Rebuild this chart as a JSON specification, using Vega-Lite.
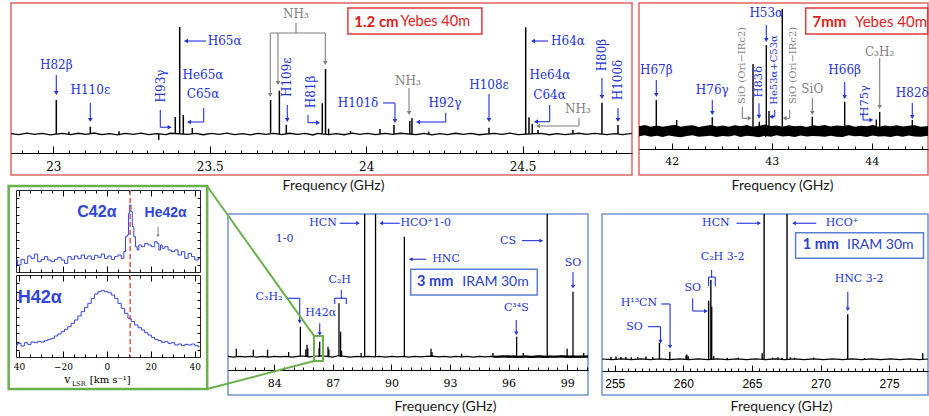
{
"$schema": "https://vega.github.io/schema/vega-lite/v6.json",
"background": "white",
"padding": {"left": 6, "top": 2, "right": 2, "bottom": 2},
"bounds": "flush",
"spacing": 187,
"config": {"view": {"stroke": null}, "axis": {"grid": false, "domainColor": "#000", "tickColor": "#000"}},
"datasets": {
"p1n": [{"f":22.865,"v":0.004},{"f":22.89,"v":-0.006},{"f":22.915,"v":0.008},{"f":22.94,"v":-0.004},{"f":22.965,"v":0.006},{"f":22.99,"v":-0.008},{"f":23.03,"v":0.005},{"f":23.055,"v":-0.006},{"f":23.08,"v":0.007},{"f":23.105,"v":-0.003},{"f":23.13,"v":0.009},{"f":23.155,"v":-0.005},{"f":23.18,"v":0.004},{"f":23.205,"v":-0.009},{"f":23.23,"v":0.006},{"f":23.255,"v":-0.004},{"f":23.28,"v":0.008},{"f":23.305,"v":-0.006},{"f":23.33,"v":0.003},{"f":23.36,"v":-0.005},{"f":23.375,"v":0.007},{"f":23.43,"v":-0.004},{"f":23.455,"v":0.006},{"f":23.48,"v":-0.007},{"f":23.505,"v":0.005},{"f":23.53,"v":-0.003},{"f":23.555,"v":0.008},{"f":23.58,"v":-0.006},{"f":23.605,"v":0.004},{"f":23.63,"v":-0.008},{"f":23.655,"v":0.006},{"f":23.68,"v":-0.004},{"f":23.705,"v":0.005},{"f":23.73,"v":-0.006},{"f":23.755,"v":0.007},{"f":23.78,"v":-0.003},{"f":23.805,"v":0.005},{"f":23.83,"v":-0.009},{"f":23.845,"v":0.006},{"f":23.88,"v":-0.005},{"f":23.905,"v":0.004},{"f":23.93,"v":-0.007},{"f":23.955,"v":0.008},{"f":23.98,"v":-0.004},{"f":24.005,"v":0.006},{"f":24.03,"v":-0.006},{"f":24.06,"v":0.005},{"f":24.085,"v":-0.003},{"f":24.11,"v":0.007},{"f":24.16,"v":-0.005},{"f":24.185,"v":0.006},{"f":24.21,"v":-0.008},{"f":24.235,"v":0.004},{"f":24.26,"v":-0.005},{"f":24.285,"v":0.007},{"f":24.31,"v":-0.004},{"f":24.335,"v":0.005},{"f":24.36,"v":-0.007},{"f":24.41,"v":0.006},{"f":24.435,"v":-0.004},{"f":24.46,"v":0.008},{"f":24.485,"v":-0.005},{"f":24.56,"v":0.006},{"f":24.585,"v":-0.007},{"f":24.61,"v":0.004},{"f":24.635,"v":-0.006},{"f":24.68,"v":0.007},{"f":24.705,"v":-0.004},{"f":24.73,"v":0.005},{"f":24.77,"v":-0.006},{"f":24.795,"v":0.004},{"f":24.82,"v":-0.005},{"f":24.849,"v":0.006}],
"p1s": [{"f":23.0096,"v":0.318},{"f":23.1183,"v":0.068},{"f":23.3369,"v":-0.056},{"f":23.3899,"v":0.159},{"f":23.404,"v":1.0},{"f":23.4155,"v":0.178},{"f":23.4443,"v":0.056},{"f":23.6945,"v":0.318},{"f":23.7226,"v":0.405},{"f":23.7447,"v":0.084},{"f":23.8598,"v":0.287},{"f":23.8701,"v":0.607},{"f":24.0442,"v":0.047},{"f":24.0889,"v":0.084},{"f":24.1394,"v":0.124},{"f":24.1465,"v":0.147},{"f":24.3926,"v":0.059},{"f":24.5099,"v":0.997},{"f":24.5205,"v":0.156},{"f":24.531,"v":0.093},{"f":24.5492,"v":0.037},{"f":24.6611,"v":0.037},{"f":24.7537,"v":0.293},{"f":24.8049,"v":0.084},{"f":23.05,"v":0.02},{"f":23.21,"v":0.025},{"f":23.95,"v":0.028},{"f":24.2,"v":0.022},{"f":23.88,"v":0.05}],
"p1g": [{"x1":23.0096,"y1":0.551,"x2":23.0096,"y2":0.383,"k":"rrl"},{"x1":23.1183,"y1":0.29,"x2":23.1183,"y2":0.131,"k":"rrl"},{"x1":23.342,"y1":0.224,"x2":23.342,"y2":0.063,"k":"rrl"},{"x1":23.342,"y1":0.063,"x2":23.372,"y2":0.063,"k":"rrl"},{"x1":23.4881,"y1":0.869,"x2":23.4241,"y2":0.869,"k":"rrl"},{"x1":23.4807,"y1":0.243,"x2":23.4807,"y2":0.112,"k":"rrl"},{"x1":23.4807,"y1":0.112,"x2":23.4337,"y2":0.112,"k":"rrl"},{"x1":23.7757,"y1":1.037,"x2":23.7757,"y2":0.944,"k":"mol"},{"x1":23.6936,"y1":0.944,"x2":23.8694,"y2":0.944,"k":"mol"},{"x1":23.6936,"y1":0.944,"x2":23.6936,"y2":0.364,"k":"mol"},{"x1":23.7182,"y1":0.944,"x2":23.7182,"y2":0.477,"k":"mol"},{"x1":23.8694,"y1":0.944,"x2":23.8694,"y2":0.664,"k":"mol"},{"x1":23.7479,"y1":0.271,"x2":23.7479,"y2":0.131,"k":"rrl"},{"x1":23.8141,"y1":0.178,"x2":23.8141,"y2":0.106,"k":"rrl"},{"x1":23.8141,"y1":0.106,"x2":23.8461,"y2":0.106,"k":"rrl"},{"x1":24.0538,"y1":0.29,"x2":24.0921,"y2":0.29,"k":"rrl"},{"x1":24.0921,"y1":0.29,"x2":24.0921,"y2":0.121,"k":"rrl"},{"x1":24.1369,"y1":0.43,"x2":24.1369,"y2":0.196,"k":"mol"},{"x1":24.2542,"y1":0.199,"x2":24.2542,"y2":0.112,"k":"rrl"},{"x1":24.2542,"y1":0.112,"x2":24.1657,"y2":0.112,"k":"rrl"},{"x1":24.3926,"y1":0.374,"x2":24.3926,"y2":0.131,"k":"rrl"},{"x1":24.5812,"y1":0.869,"x2":24.5333,"y2":0.869,"k":"rrl"},{"x1":24.5866,"y1":0.271,"x2":24.5866,"y2":0.115,"k":"rrl"},{"x1":24.5866,"y1":0.115,"x2":24.5428,"y2":0.115,"k":"rrl"},{"x1":24.6802,"y1":0.15,"x2":24.6802,"y2":0.075,"k":"mol"},{"x1":24.6802,"y1":0.075,"x2":24.5492,"y2":0.075,"k":"mol"},{"x1":24.7537,"y1":0.523,"x2":24.7537,"y2":0.346,"k":"rrl"},{"x1":24.8049,"y1":0.243,"x2":24.8049,"y2":0.131,"k":"rrl"}],
"p1h": [{"f":23.0096,"v":0.383,"d":"down","k":"rrl"},{"f":23.1183,"v":0.131,"d":"down","k":"rrl"},{"f":23.372,"v":0.063,"d":"right","k":"rrl"},{"f":23.4241,"v":0.869,"d":"left","k":"rrl"},{"f":23.4337,"v":0.112,"d":"left","k":"rrl"},{"f":23.6936,"v":0.364,"d":"down","k":"mol"},{"f":23.7182,"v":0.477,"d":"down","k":"mol"},{"f":23.8694,"v":0.664,"d":"down","k":"mol"},{"f":23.7479,"v":0.131,"d":"down","k":"rrl"},{"f":23.8461,"v":0.106,"d":"right","k":"rrl"},{"f":24.0921,"v":0.121,"d":"down","k":"rrl"},{"f":24.1369,"v":0.196,"d":"down","k":"mol"},{"f":24.1657,"v":0.112,"d":"left","k":"rrl"},{"f":24.3926,"v":0.131,"d":"down","k":"rrl"},{"f":24.5333,"v":0.869,"d":"left","k":"rrl"},{"f":24.5428,"v":0.115,"d":"left","k":"rrl"},{"f":24.5492,"v":0.075,"d":"left","k":"mol"},{"f":24.7537,"v":0.346,"d":"down","k":"rrl"},{"f":24.8049,"v":0.131,"d":"down","k":"rrl"}],
"p1t": [{"f":23.0096,"v":0.645,"t":"H82β","k":"rrl"},{"f":23.1183,"v":0.411,"t":"H110ε","k":"rrl"},{"f":23.5478,"v":0.869,"t":"H65α","k":"rrl"},{"f":23.4785,"v":0.551,"t":"He65α","k":"rrl"},{"f":23.4785,"v":0.374,"t":"C65α","k":"rrl"},{"f":23.7757,"v":1.121,"t":"NH₃","k":"mol"},{"f":23.9739,"v":0.29,"t":"H101δ","k":"rrl"},{"f":24.1337,"v":0.495,"t":"NH₃","k":"mol"},{"f":24.252,"v":0.29,"t":"H92γ","k":"rrl"},{"f":24.3926,"v":0.458,"t":"H108ε","k":"rrl"},{"f":24.6451,"v":0.869,"t":"H64α","k":"rrl"},{"f":24.5876,"v":0.551,"t":"He64α","k":"rrl"},{"f":24.586,"v":0.364,"t":"C64α","k":"rrl"},{"f":24.677,"v":0.234,"t":"NH₃","k":"mol"}],
"p1r": [{"f":23.3442,"v":0.449,"t":"H93γ","k":"rrl"},{"f":23.7479,"v":0.53,"t":"H109ε","k":"rrl"},{"f":23.8221,"v":0.393,"t":"H81β","k":"rrl"},{"f":24.7537,"v":0.738,"t":"H80β","k":"rrl"},{"f":24.8049,"v":0.505,"t":"H100δ","k":"rrl"}],
"p2b": [{"f":41.673,"lo":-0.06,"hi":0.055},{"f":41.73,"lo":-0.05,"hi":0.07},{"f":41.79,"lo":-0.068,"hi":0.05},{"f":41.85,"lo":-0.055,"hi":0.065},{"f":41.91,"lo":-0.07,"hi":0.048},{"f":41.97,"lo":-0.052,"hi":0.062},{"f":42.03,"lo":-0.063,"hi":0.072},{"f":42.09,"lo":-0.072,"hi":0.05},{"f":42.15,"lo":-0.057,"hi":0.06},{"f":42.21,"lo":-0.05,"hi":0.068},{"f":42.27,"lo":-0.066,"hi":0.047},{"f":42.33,"lo":-0.06,"hi":0.058},{"f":42.39,"lo":-0.054,"hi":0.07},{"f":42.45,"lo":-0.07,"hi":0.052},{"f":42.51,"lo":-0.058,"hi":0.063},{"f":42.57,"lo":-0.064,"hi":0.049},{"f":42.63,"lo":-0.05,"hi":0.066},{"f":42.69,"lo":-0.069,"hi":0.055},{"f":42.75,"lo":-0.056,"hi":0.071},{"f":42.81,"lo":-0.062,"hi":0.05},{"f":42.87,"lo":-0.073,"hi":0.06},{"f":42.93,"lo":-0.055,"hi":0.075},{"f":42.99,"lo":-0.067,"hi":0.058},{"f":43.05,"lo":-0.05,"hi":0.064},{"f":43.11,"lo":-0.063,"hi":0.05},{"f":43.17,"lo":-0.058,"hi":0.068},{"f":43.23,"lo":-0.07,"hi":0.054},{"f":43.29,"lo":-0.052,"hi":0.061},{"f":43.35,"lo":-0.065,"hi":0.047},{"f":43.41,"lo":-0.057,"hi":0.066},{"f":43.47,"lo":-0.06,"hi":0.058},{"f":43.53,"lo":-0.068,"hi":0.07},{"f":43.59,"lo":-0.054,"hi":0.052},{"f":43.65,"lo":-0.066,"hi":0.063},{"f":43.71,"lo":-0.071,"hi":0.057},{"f":43.77,"lo":-0.05,"hi":0.069},{"f":43.83,"lo":-0.062,"hi":0.05},{"f":43.89,"lo":-0.058,"hi":0.062},{"f":43.95,"lo":-0.069,"hi":0.055},{"f":44.01,"lo":-0.053,"hi":0.071},{"f":44.07,"lo":-0.064,"hi":0.049},{"f":44.13,"lo":-0.06,"hi":0.064},{"f":44.19,"lo":-0.07,"hi":0.056},{"f":44.25,"lo":-0.055,"hi":0.068},{"f":44.31,"lo":-0.066,"hi":0.052},{"f":44.37,"lo":-0.051,"hi":0.06},{"f":44.43,"lo":-0.063,"hi":0.066},{"f":44.49,"lo":-0.068,"hi":0.05},{"f":44.563,"lo":-0.056,"hi":0.058}],
"p2s": [{"f":41.846,"v":0.36},{"f":42.05,"v":0.128},{"f":42.406,"v":0.159},{"f":42.813,"v":0.78},{"f":42.876,"v":0.108},{"f":42.946,"v":1.0},{"f":42.94,"v":-0.07},{"f":42.973,"v":0.233},{"f":43.106,"v":1.42},{"f":43.406,"v":0.166},{"f":43.73,"v":0.341},{"f":44.046,"v":0.135},{"f":44.08,"v":0.221},{"f":44.406,"v":0.128}],
"p2g": [{"x1":41.846,"y1":0.593,"x2":41.846,"y2":0.419,"k":"rrl"},{"x1":42.406,"y1":0.36,"x2":42.406,"y2":0.209,"k":"rrl"},{"x1":42.706,"y1":0.283,"x2":42.706,"y2":0.148,"k":"mol"},{"x1":42.706,"y1":0.148,"x2":42.78,"y2":0.148,"k":"mol"},{"x1":42.873,"y1":0.322,"x2":42.873,"y2":0.166,"k":"rrl"},{"x1":42.946,"y1":1.233,"x2":42.946,"y2":1.058,"k":"rrl"},{"x1":43.03,"y1":0.244,"x2":43.03,"y2":0.166,"k":"rrl"},{"x1":43.03,"y1":0.166,"x2":42.996,"y2":0.166,"k":"rrl"},{"x1":43.18,"y1":0.244,"x2":43.18,"y2":0.148,"k":"mol"},{"x1":43.18,"y1":0.148,"x2":43.13,"y2":0.148,"k":"mol"},{"x1":43.406,"y1":0.384,"x2":43.406,"y2":0.209,"k":"mol"},{"x1":43.73,"y1":0.57,"x2":43.73,"y2":0.395,"k":"rrl"},{"x1":43.913,"y1":0.209,"x2":43.913,"y2":0.128,"k":"rrl"},{"x1":43.913,"y1":0.128,"x2":43.996,"y2":0.128,"k":"rrl"},{"x1":44.08,"y1":0.849,"x2":44.08,"y2":0.279,"k":"mol"},{"x1":44.406,"y1":0.326,"x2":44.406,"y2":0.163,"k":"rrl"}],
"p2h": [{"f":41.846,"v":0.419,"d":"down","k":"rrl"},{"f":42.406,"v":0.209,"d":"down","k":"rrl"},{"f":42.78,"v":0.148,"d":"right","k":"mol"},{"f":42.873,"v":0.166,"d":"down","k":"rrl"},{"f":42.946,"v":1.058,"d":"down","k":"rrl"},{"f":42.996,"v":0.166,"d":"left","k":"rrl"},{"f":43.13,"v":0.148,"d":"left","k":"mol"},{"f":43.406,"v":0.209,"d":"down","k":"mol"},{"f":43.73,"v":0.395,"d":"down","k":"rrl"},{"f":43.996,"v":0.128,"d":"right","k":"rrl"},{"f":44.08,"v":0.279,"d":"down","k":"mol"},{"f":44.406,"v":0.163,"d":"down","k":"rrl"}],
"p2t": [{"f":41.846,"v":0.709,"t":"H67β","k":"rrl"},{"f":42.406,"v":0.477,"t":"H76γ","k":"rrl"},{"f":42.946,"v":1.369,"t":"H53α","k":"rrl"},{"f":43.406,"v":0.485,"t":"SiO","k":"mol"},{"f":43.73,"v":0.709,"t":"H66β","k":"rrl"},{"f":44.08,"v":0.922,"t":"C₃H₂","k":"mol"},{"f":44.406,"v":0.438,"t":"H82δ","k":"rrl"}],
"p2r": [{"f":42.876,"v":0.573,"t":"H83δ","k":"rrl"},{"f":43.93,"v":0.351,"t":"H75γ","k":"rrl"}],
"p2q": [{"f":42.701,"v":0.762,"t":"SiO (Ori−IRc2)","k":"mol"},{"f":43.021,"v":0.709,"t":"He53α+C53α","k":"rrl"},{"f":43.208,"v":0.762,"t":"SiO (Ori−IRc2)","k":"mol"}],
"p3n": [{"f":81.634,"v":0.002},{"f":81.9,"v":-0.003},{"f":82.2,"v":0.003},{"f":82.5,"v":-0.002},{"f":82.8,"v":0.003},{"f":83.1,"v":-0.003},{"f":83.4,"v":0.002},{"f":83.7,"v":-0.003},{"f":84.0,"v":0.003},{"f":84.3,"v":-0.002},{"f":84.6,"v":0.003},{"f":84.9,"v":-0.003},{"f":85.2,"v":0.003},{"f":85.5,"v":0.006},{"f":85.8,"v":-0.002},{"f":86.1,"v":0.004},{"f":86.4,"v":0.008},{"f":86.7,"v":0.003},{"f":87.0,"v":-0.003},{"f":87.3,"v":0.01},{"f":87.6,"v":0.003},{"f":87.9,"v":-0.003},{"f":88.2,"v":0.002},{"f":88.5,"v":-0.002},{"f":88.8,"v":0.003},{"f":89.1,"v":-0.002},{"f":89.4,"v":0.003},{"f":89.7,"v":-0.003},{"f":90.0,"v":0.002},{"f":90.3,"v":-0.002},{"f":90.6,"v":0.003},{"f":90.9,"v":-0.003},{"f":91.2,"v":0.002},{"f":91.5,"v":-0.002},{"f":91.8,"v":0.003},{"f":92.1,"v":0.005},{"f":92.4,"v":-0.002},{"f":92.7,"v":0.003},{"f":93.0,"v":-0.003},{"f":93.3,"v":0.002},{"f":93.6,"v":-0.002},{"f":93.9,"v":0.003},{"f":94.2,"v":-0.003},{"f":94.5,"v":0.002},{"f":94.8,"v":-0.002},{"f":95.1,"v":0.003},{"f":95.4,"v":-0.004},{"f":95.7,"v":0.004},{"f":96.0,"v":-0.004},{"f":96.3,"v":0.004},{"f":96.6,"v":-0.004},{"f":96.9,"v":0.004},{"f":97.2,"v":-0.004},{"f":97.5,"v":0.004},{"f":97.8,"v":-0.004},{"f":98.1,"v":0.004},{"f":98.4,"v":-0.004},{"f":98.7,"v":0.004},{"f":99.0,"v":-0.004},{"f":99.3,"v":0.004},{"f":99.6,"v":-0.004},{"f":100.07,"v":0.004}],
"p3b": [{"f":95.2,"lo":-0.006,"hi":0.007},{"f":95.6,"lo":-0.009,"hi":0.011},{"f":96.0,"lo":-0.007,"hi":0.012},{"f":96.4,"lo":-0.01,"hi":0.009},{"f":96.8,"lo":-0.008,"hi":0.011},{"f":97.2,"lo":-0.011,"hi":0.009},{"f":97.6,"lo":-0.008,"hi":0.012},{"f":98.0,"lo":-0.01,"hi":0.009},{"f":98.4,"lo":-0.007,"hi":0.011},{"f":98.8,"lo":-0.009,"hi":0.012},{"f":99.2,"lo":-0.011,"hi":0.01},{"f":99.6,"lo":-0.008,"hi":0.011},{"f":100.07,"lo":-0.009,"hi":0.01}],
"p3s": [{"f":82.06,"v":0.067},{"f":82.93,"v":0.058},{"f":83.66,"v":0.058},{"f":84.74,"v":0.04},{"f":85.339,"v":0.25},{"f":85.62,"v":0.06},{"f":85.68,"v":0.1},{"f":85.72,"v":0.07},{"f":86.3,"v":0.07},{"f":86.33,"v":0.125},{"f":86.755,"v":0.083},{"f":86.8,"v":0.06},{"f":87.317,"v":0.445},{"f":87.4,"v":0.208},{"f":87.45,"v":0.05},{"f":88.45,"v":0.03},{"f":88.632,"v":1.19},{"f":89.189,"v":1.19},{"f":90.664,"v":1.0},{"f":92.03,"v":0.067},{"f":92.08,"v":0.04},{"f":93.6,"v":0.025},{"f":95.2,"v":0.03},{"f":96.413,"v":0.167},{"f":96.75,"v":0.03},{"f":97.981,"v":1.19},{"f":99.0,"v":0.067},{"f":99.3,"v":0.542},{"f":99.85,"v":0.03}],
"p3g": [{"x1":87.354,"y1":1.112,"x2":88.291,"y2":1.112},{"x1":90.426,"y1":1.112,"x2":89.484,"y2":1.112},{"x1":91.788,"y1":0.812,"x2":90.989,"y2":0.812},{"x1":96.688,"y1":0.967,"x2":97.676,"y2":0.967},{"x1":99.3,"y1":0.708,"x2":99.3,"y2":0.583},{"x1":96.396,"y1":0.306,"x2":96.396,"y2":0.195},{"x1":84.62,"y1":0.487,"x2":85.306,"y2":0.487},{"x1":85.306,"y1":0.487,"x2":85.306,"y2":0.292},{"x1":86.33,"y1":0.278,"x2":86.33,"y2":0.189},{"x1":87.436,"y1":0.556,"x2":87.436,"y2":0.487},{"x1":87.098,"y1":0.487,"x2":87.692,"y2":0.487},{"x1":87.098,"y1":0.487,"x2":87.098,"y2":0.439},{"x1":87.692,"y1":0.487,"x2":87.692,"y2":0.439}],
"p3h": [{"f":88.291,"v":1.112,"d":"right"},{"f":89.484,"v":1.112,"d":"left"},{"f":90.989,"v":0.812,"d":"left"},{"f":97.676,"v":0.967,"d":"right"},{"f":99.3,"v":0.583,"d":"down"},{"f":96.396,"v":0.195,"d":"down"},{"f":85.306,"v":0.292,"d":"down"},{"f":86.33,"v":0.189,"d":"down"}],
"p3t": [{"f":84.538,"v":0.978,"t":"1-0"},{"f":86.499,"v":1.112,"t":"HCN"},{"f":91.757,"v":1.112,"t":"HCO⁺1-0"},{"f":92.797,"v":0.812,"t":"HNC"},{"f":95.971,"v":0.967,"t":"CS"},{"f":99.3,"v":0.783,"t":"SO"},{"f":96.396,"v":0.403,"t":"C³⁴S"},{"f":83.734,"v":0.495,"t":"C₃H₂"},{"f":86.381,"v":0.362,"t":"H42α"},{"f":87.354,"v":0.639,"t":"C₂H"}],
"p4n": [{"f":254.07,"v":0.004},{"f":254.8,"v":-0.005},{"f":255.5,"v":0.006},{"f":256.2,"v":-0.004},{"f":256.9,"v":0.005},{"f":257.6,"v":-0.005},{"f":258.3,"v":0.004},{"f":259.0,"v":-0.004},{"f":259.7,"v":0.005},{"f":260.4,"v":-0.004},{"f":261.1,"v":0.005},{"f":261.8,"v":-0.005},{"f":262.5,"v":0.004},{"f":263.2,"v":-0.004},{"f":263.9,"v":0.005},{"f":264.6,"v":-0.005},{"f":265.3,"v":0.004},{"f":266.0,"v":-0.004},{"f":266.7,"v":0.005},{"f":267.4,"v":-0.004},{"f":268.1,"v":0.005},{"f":268.8,"v":-0.005},{"f":269.5,"v":0.004},{"f":270.2,"v":-0.004},{"f":270.9,"v":0.005},{"f":271.6,"v":-0.005},{"f":272.3,"v":0.004},{"f":273.0,"v":-0.004},{"f":273.7,"v":0.005},{"f":274.4,"v":-0.005},{"f":275.1,"v":0.004},{"f":275.8,"v":-0.004},{"f":276.5,"v":0.005},{"f":277.2,"v":-0.004},{"f":277.83,"v":0.004}],
"p4s": [{"f":254.72,"v":0.03},{"f":255.09,"v":0.035},{"f":255.45,"v":0.03},{"f":255.81,"v":0.03},{"f":256.2,"v":0.025},{"f":256.68,"v":0.03},{"f":257.27,"v":0.035},{"f":257.78,"v":0.03},{"f":258.256,"v":0.21},{"f":259.012,"v":0.096},{"f":260.2,"v":0.05},{"f":260.255,"v":0.06},{"f":260.35,"v":0.04},{"f":261.844,"v":0.742},{"f":262.004,"v":1.004},{"f":262.065,"v":0.666},{"f":262.21,"v":0.04},{"f":263.2,"v":0.02},{"f":264.0,"v":0.02},{"f":265.75,"v":0.076},{"f":265.886,"v":1.84},{"f":266.5,"v":0.02},{"f":266.9,"v":0.025},{"f":267.2,"v":0.02},{"f":267.558,"v":1.84},{"f":267.8,"v":0.025},{"f":268.1,"v":0.02},{"f":269.5,"v":0.02},{"f":271.981,"v":0.57},{"f":273.2,"v":0.015},{"f":277.45,"v":0.076}],
"p4g": [{"x1":263.874,"y1":1.722,"x2":265.523,"y2":1.722},{"x1":269.684,"y1":1.722,"x2":268.065,"y2":1.722},{"x1":262.059,"y1":1.13,"x2":262.059,"y2":1.04},{"x1":261.841,"y1":1.04,"x2":262.327,"y2":1.04},{"x1":261.841,"y1":1.04,"x2":261.841,"y2":0.928},{"x1":262.327,"y1":1.04,"x2":262.327,"y2":0.928},{"x1":260.679,"y1":0.772,"x2":260.679,"y2":0.611},{"x1":260.679,"y1":0.611,"x2":261.645,"y2":0.611},{"x1":258.377,"y1":0.7,"x2":259.031,"y2":0.7},{"x1":259.031,"y1":0.7,"x2":259.031,"y2":0.159},{"x1":257.411,"y1":0.413,"x2":258.333,"y2":0.413},{"x1":258.333,"y1":0.413,"x2":258.333,"y2":0.223},{"x1":271.986,"y1":0.856,"x2":271.986,"y2":0.633}],
"p4h": [{"f":265.523,"v":1.722,"d":"right"},{"f":268.065,"v":1.722,"d":"left"},{"f":261.645,"v":0.611,"d":"right"},{"f":259.031,"v":0.159,"d":"down"},{"f":258.333,"v":0.223,"d":"down"},{"f":271.986,"v":0.633,"d":"down"}],
"p4t": [{"f":262.371,"v":1.722,"t":"HCN"},{"f":271.572,"v":1.722,"t":"HCO⁺"},{"f":262.858,"v":1.291,"t":"C₂H 3-2"},{"f":260.679,"v":0.899,"t":"SO"},{"f":256.757,"v":0.709,"t":"H¹³CN"},{"f":256.445,"v":0.413,"t":"SO"},{"f":272.807,"v":1.02,"t":"HNC 3-2"}],
"c42": [{"v":-41.4,"t":0.0},{"v":-39.88,"t":-0.091},{"v":-38.36,"t":0.012},{"v":-36.83,"t":-0.061},{"v":-35.31,"t":0.073},{"v":-33.79,"t":0.03},{"v":-32.27,"t":0.109},{"v":-30.75,"t":-0.03},{"v":-29.22,"t":0.012},{"v":-27.7,"t":0.061},{"v":-26.18,"t":0.0},{"v":-24.66,"t":-0.03},{"v":-23.14,"t":0.012},{"v":-21.61,"t":0.048},{"v":-20.09,"t":0.0},{"v":-18.57,"t":-0.061},{"v":-17.05,"t":0.061},{"v":-15.53,"t":0.012},{"v":-14.0,"t":0.073},{"v":-12.48,"t":0.024},{"v":-10.96,"t":0.091},{"v":-9.44,"t":0.03},{"v":-7.91,"t":0.073},{"v":-6.39,"t":0.012},{"v":-4.87,"t":0.085},{"v":-3.35,"t":0.048},{"v":-1.83,"t":0.109},{"v":-0.3,"t":0.03},{"v":1.22,"t":0.073},{"v":2.74,"t":0.012},{"v":4.26,"t":0.061},{"v":5.78,"t":0.091},{"v":7.31,"t":0.03},{"v":8.07,"t":0.152},{"v":8.83,"t":0.424},{"v":9.59,"t":0.455},{"v":10.05,"t":0.848},{"v":10.65,"t":1.0},{"v":11.26,"t":0.879},{"v":11.87,"t":0.606},{"v":12.63,"t":0.424},{"v":13.39,"t":0.242},{"v":14.16,"t":0.182},{"v":14.92,"t":0.273},{"v":16.44,"t":0.242},{"v":17.96,"t":0.303},{"v":19.48,"t":0.273},{"v":21.0,"t":0.242},{"v":22.53,"t":0.333},{"v":23.29,"t":0.303},{"v":24.05,"t":0.182},{"v":24.81,"t":0.273},{"v":25.57,"t":0.212},{"v":27.09,"t":0.242},{"v":28.61,"t":0.182},{"v":30.14,"t":0.152},{"v":31.66,"t":0.182},{"v":33.18,"t":0.091},{"v":34.7,"t":0.152},{"v":36.22,"t":0.03},{"v":37.75,"t":0.121},{"v":39.27,"t":0.061},{"v":40.79,"t":0.0},{"v":42.31,"t":0.03}],
"h42": [{"v":-41.4,"t":0.0},{"v":-39.88,"t":0.03},{"v":-38.36,"t":-0.018},{"v":-36.83,"t":0.042},{"v":-35.31,"t":0.012},{"v":-33.79,"t":0.055},{"v":-32.27,"t":0.042},{"v":-30.75,"t":0.067},{"v":-29.22,"t":0.055},{"v":-27.7,"t":0.079},{"v":-26.18,"t":0.103},{"v":-24.66,"t":0.121},{"v":-23.14,"t":0.164},{"v":-21.61,"t":0.2},{"v":-20.09,"t":0.242},{"v":-18.57,"t":0.285},{"v":-17.05,"t":0.333},{"v":-15.53,"t":0.394},{"v":-14.0,"t":0.455},{"v":-12.48,"t":0.527},{"v":-10.96,"t":0.606},{"v":-9.44,"t":0.685},{"v":-7.91,"t":0.758},{"v":-6.39,"t":0.848},{"v":-4.87,"t":0.927},{"v":-3.35,"t":0.97},{"v":-1.83,"t":0.988},{"v":-0.3,"t":0.97},{"v":1.22,"t":0.952},{"v":2.74,"t":0.909},{"v":4.26,"t":0.848},{"v":5.78,"t":0.758},{"v":7.31,"t":0.667},{"v":8.83,"t":0.576},{"v":10.35,"t":0.485},{"v":11.87,"t":0.424},{"v":13.39,"t":0.364},{"v":14.92,"t":0.315},{"v":16.44,"t":0.273},{"v":17.96,"t":0.224},{"v":19.48,"t":0.182},{"v":21.0,"t":0.139},{"v":22.53,"t":0.103},{"v":24.05,"t":0.079},{"v":25.57,"t":0.048},{"v":27.09,"t":0.061},{"v":28.61,"t":0.03},{"v":30.14,"t":0.042},{"v":31.66,"t":0.0},{"v":33.18,"t":0.018},{"v":34.7,"t":-0.012},{"v":36.22,"t":0.012},{"v":37.75,"t":0.0},{"v":39.27,"t":0.018},{"v":40.79,"t":-0.012},{"v":42.31,"t":-0.03}]
},
"vconcat": [
{"hconcat": [
 {"width": 621, "height": 172, "view": {"stroke": "#e06666", "strokeWidth": 1.5},
  "resolve": {"axis": {"x": "independent"}},
  "layer": [
   {"data": {"name": "p1n"}, "mark": {"type": "line", "color": "#000", "strokeWidth": 1.3},
    "encoding": {"x": {"field": "f", "type": "quantitative", "scale": {"domain": [22.8648, 24.8497], "nice": false, "zero": false},
      "axis": {"orient": "bottom", "offset": -22, "values": [23, 23.5, 24, 24.5], "format": "~g", "tickSize": -7, "labelPadding": 20, "labelBaseline": "middle", "labelFont": "DejaVu Serif", "labelFontSize": 12, "labelColor": "#000", "labelFlush": false, "labelOverlap": false, "title": "Frequency (GHz)", "titleFont": "Lato", "titleFontSize": 14, "titleFontWeight": "normal", "titleColor": "#1a1a1a", "titleX": 322, "titleY": 32, "titleBaseline": "middle"}},
     "y": {"field": "v", "type": "quantitative", "scale": {"domain": [-0.3832, 1.2243], "nice": false, "zero": false}, "axis": null}}},
   {"data": {"name": "p1n"}, "mark": {"type": "line", "opacity": 0},
    "encoding": {"x": {"field": "f", "type": "quantitative", "axis": {"orient": "bottom", "offset": -22, "values": [22.9,22.95,23,23.05,23.1,23.15,23.2,23.25,23.3,23.35,23.4,23.45,23.5,23.55,23.6,23.65,23.7,23.75,23.8,23.85,23.9,23.95,24,24.05,24.1,24.15,24.2,24.25,24.3,24.35,24.4,24.45,24.5,24.55,24.6,24.65,24.7,24.75,24.8], "tickSize": -3, "labels": false, "domain": false, "title": null}},
     "y": {"field": "v", "type": "quantitative", "axis": null}}},
   {"data": {"name": "p1s"}, "mark": {"type": "rule", "color": "#000", "strokeWidth": 1.5},
    "encoding": {"x": {"field": "f", "type": "quantitative", "axis": null}, "y": {"field": "v", "type": "quantitative", "axis": null}, "y2": {"datum": 0}}},
   {"data": {"name": "p1g"}, "mark": {"type": "rule", "strokeWidth": 1.1},
    "encoding": {"x": {"field": "x1", "type": "quantitative", "axis": null}, "x2": {"field": "x2"}, "y": {"field": "y1", "type": "quantitative", "axis": null}, "y2": {"field": "y2"},
     "color": {"field": "k", "type": "nominal", "scale": {"domain": ["rrl", "mol"], "range": ["#2233dd", "#7f7f7f"]}, "legend": null}}},
   {"data": {"name": "p1h"}, "mark": {"type": "point", "filled": true, "size": 22, "opacity": 1},
    "encoding": {"x": {"field": "f", "type": "quantitative", "axis": null}, "y": {"field": "v", "type": "quantitative", "axis": null},
     "shape": {"field": "d", "type": "nominal", "scale": {"domain": ["down", "left", "right"], "range": ["triangle-down", "triangle-left", "triangle-right"]}, "legend": null},
     "color": {"field": "k", "type": "nominal", "legend": null}}},
   {"data": {"name": "p1t"}, "mark": {"type": "text", "font": "DejaVu Serif", "fontSize": 12, "align": "center", "baseline": "middle"},
    "encoding": {"x": {"field": "f", "type": "quantitative", "axis": null}, "y": {"field": "v", "type": "quantitative", "axis": null}, "text": {"field": "t"}, "color": {"field": "k", "type": "nominal", "legend": null}}},
   {"data": {"name": "p1r"}, "mark": {"type": "text", "font": "DejaVu Serif", "fontSize": 12, "align": "center", "baseline": "middle", "angle": 270},
    "encoding": {"x": {"field": "f", "type": "quantitative", "axis": null}, "y": {"field": "v", "type": "quantitative", "axis": null}, "text": {"field": "t"}, "color": {"field": "k", "type": "nominal", "legend": null}}},
   {"data": {"values": [{}]}, "mark": {"type": "rect", "fill": null, "stroke": "#dd3b3b", "strokeWidth": 1.5},
    "encoding": {"x": {"datum": 23.9416, "type": "quantitative", "axis": null}, "x2": {"datum": 24.3699}, "y": {"datum": 1.178, "type": "quantitative", "axis": null}, "y2": {"datum": 0.935}}},
   {"data": {"values": [{}]}, "mark": {"type": "text", "text": "1.2 cm", "font": "Lato", "fontSize": 15, "fontWeight": "bold", "color": "#e01b1b", "align": "center", "baseline": "middle"},
    "encoding": {"x": {"datum": 24.033, "type": "quantitative", "axis": null}, "y": {"datum": 1.047, "type": "quantitative", "axis": null}}},
   {"data": {"values": [{}]}, "mark": {"type": "text", "text": "Yebes 40m", "font": "Lato", "fontSize": 14.5, "color": "#e01b1b", "align": "center", "baseline": "middle"},
    "encoding": {"x": {"datum": 24.2208, "type": "quantitative", "axis": null}, "y": {"datum": 1.047, "type": "quantitative", "axis": null}}}
  ]},
 {"width": 289, "height": 172, "view": {"stroke": "#e06666", "strokeWidth": 1.5},
  "resolve": {"axis": {"x": "independent"}},
  "layer": [
   {"data": {"name": "p2b"}, "mark": {"type": "area", "color": "#000", "opacity": 1},
    "encoding": {"x": {"field": "f", "type": "quantitative", "scale": {"domain": [41.673, 44.563], "nice": false, "zero": false},
      "axis": {"orient": "bottom", "offset": -26, "values": [42, 43, 44], "format": "~g", "tickSize": -6, "labelPadding": 18, "labelBaseline": "middle", "labelFont": "DejaVu Serif", "labelFontSize": 11, "labelColor": "#000", "labelFlush": false, "labelOverlap": false, "title": "Frequency (GHz)", "titleFont": "Lato", "titleFontSize": 14, "titleFontWeight": "normal", "titleColor": "#1a1a1a", "titleX": 143, "titleY": 36, "titleBaseline": "middle"}},
     "y": {"field": "lo", "type": "quantitative", "scale": {"domain": [-0.5116, 1.4884], "nice": false, "zero": false}, "axis": null}, "y2": {"field": "hi"}}},
   {"data": {"name": "p2b"}, "mark": {"type": "line", "opacity": 0},
    "encoding": {"x": {"field": "f", "type": "quantitative", "axis": {"orient": "bottom", "offset": -26, "values": [41.8333,42,42.1667,42.3333,42.5,42.6667,42.8333,43,43.1667,43.3333,43.5,43.6667,43.8333,44,44.1667,44.3333,44.5], "tickSize": -3, "labels": false, "domain": false, "title": null}},
     "y": {"field": "lo", "type": "quantitative", "axis": null}}},
   {"data": {"name": "p2s"}, "mark": {"type": "rule", "color": "#000", "strokeWidth": 1.4},
    "encoding": {"x": {"field": "f", "type": "quantitative", "axis": null}, "y": {"field": "v", "type": "quantitative", "axis": null}, "y2": {"datum": 0}}},
   {"data": {"name": "p2g"}, "mark": {"type": "rule", "strokeWidth": 1.1},
    "encoding": {"x": {"field": "x1", "type": "quantitative", "axis": null}, "x2": {"field": "x2"}, "y": {"field": "y1", "type": "quantitative", "axis": null}, "y2": {"field": "y2"},
     "color": {"field": "k", "type": "nominal", "scale": {"domain": ["rrl", "mol"], "range": ["#2233dd", "#7f7f7f"]}, "legend": null}}},
   {"data": {"name": "p2h"}, "mark": {"type": "point", "filled": true, "size": 20, "opacity": 1},
    "encoding": {"x": {"field": "f", "type": "quantitative", "axis": null}, "y": {"field": "v", "type": "quantitative", "axis": null},
     "shape": {"field": "d", "type": "nominal", "scale": {"domain": ["down", "left", "right"], "range": ["triangle-down", "triangle-left", "triangle-right"]}, "legend": null},
     "color": {"field": "k", "type": "nominal", "legend": null}}},
   {"data": {"name": "p2t"}, "mark": {"type": "text", "font": "DejaVu Serif", "fontSize": 12, "align": "center", "baseline": "middle"},
    "encoding": {"x": {"field": "f", "type": "quantitative", "axis": null}, "y": {"field": "v", "type": "quantitative", "axis": null}, "text": {"field": "t"}, "color": {"field": "k", "type": "nominal", "legend": null}}},
   {"data": {"name": "p2r"}, "mark": {"type": "text", "font": "DejaVu Serif", "fontSize": 11.5, "align": "center", "baseline": "middle", "angle": 270},
    "encoding": {"x": {"field": "f", "type": "quantitative", "axis": null}, "y": {"field": "v", "type": "quantitative", "axis": null}, "text": {"field": "t"}, "color": {"field": "k", "type": "nominal", "legend": null}}},
   {"data": {"name": "p2q"}, "mark": {"type": "text", "font": "DejaVu Serif", "fontSize": 10, "align": "center", "baseline": "middle", "angle": 270},
    "encoding": {"x": {"field": "f", "type": "quantitative", "axis": null}, "y": {"field": "v", "type": "quantitative", "axis": null}, "text": {"field": "t"}, "color": {"field": "k", "type": "nominal", "legend": null}}},
   {"data": {"values": [{}]}, "mark": {"type": "rect", "fill": null, "stroke": "#dd3b3b", "strokeWidth": 1.5},
    "encoding": {"x": {"datum": 43.34, "type": "quantitative", "axis": null}, "x2": {"datum": 44.56}, "y": {"datum": 1.43, "type": "quantitative", "axis": null}, "y2": {"datum": 1.128}}},
   {"data": {"values": [{}]}, "mark": {"type": "text", "text": "7mm", "font": "Lato", "fontSize": 15, "fontWeight": "bold", "color": "#e01b1b", "align": "center", "baseline": "middle"},
    "encoding": {"x": {"datum": 43.578, "type": "quantitative", "axis": null}, "y": {"datum": 1.267, "type": "quantitative", "axis": null}}},
   {"data": {"values": [{}]}, "mark": {"type": "text", "text": "Yebes 40m", "font": "Lato", "fontSize": 15, "color": "#e01b1b", "align": "center", "baseline": "middle"},
    "encoding": {"x": {"datum": 44.193, "type": "quantitative", "axis": null}, "y": {"datum": 1.267, "type": "quantitative", "axis": null}}}
  ]}
 ], "spacing": 7, "bounds": "flush"},
{"hconcat": [
 {"hconcat": [
  {"width": 1, "height": 1, "data": {"values": []}, "mark": "point", "view": {"stroke": null}},
  {"vconcat": [
   {"width": 184, "height": 82, "view": {"stroke": "#222", "strokeWidth": 1},
    "resolve": {"axis": {"x": "independent", "y": "independent"}},
    "layer": [
     {"data": {"name": "c42"}, "mark": {"type": "line", "color": "#3445e0", "strokeWidth": 1, "interpolate": "step"},
      "encoding": {"x": {"field": "v", "type": "quantitative", "scale": {"domain": [-41.4, 42.4], "nice": false, "zero": false},
        "axis": {"orient": "bottom", "values": [-40,-35,-30,-25,-20,-15,-10,-5,0,5,10,15,20,25,30,35,40], "tickSize": -3, "labels": false, "domain": false, "title": null}},
       "y": {"field": "t", "type": "quantitative", "scale": {"domain": [-0.218, 1.273], "nice": false, "zero": false},
        "axis": {"orient": "left", "values": [-0.091,0.06,0.212,0.364,0.515,0.667,0.818,0.97,1.121], "tickSize": -3, "labels": false, "domain": false, "title": null}}}},
     {"data": {"name": "c42"}, "mark": {"type": "line", "opacity": 0},
      "encoding": {"x": {"field": "v", "type": "quantitative", "axis": {"orient": "top", "values": [-40,-35,-30,-25,-20,-15,-10,-5,0,5,10,15,20,25,30,35,40], "tickSize": -3, "labels": false, "domain": false, "title": null}},
       "y": {"field": "t", "type": "quantitative", "axis": {"orient": "right", "values": [-0.091,0.06,0.212,0.364,0.515,0.667,0.818,0.97,1.121], "tickSize": -3, "labels": false, "domain": false, "title": null}}}},
     {"data": {"name": "c42"}, "mark": {"type": "line", "opacity": 0},
      "encoding": {"x": {"field": "v", "type": "quantitative", "axis": {"orient": "bottom", "values": [-40,-20,0,20,40], "tickSize": -6, "labels": false, "domain": false, "title": null}},
       "y": {"field": "t", "type": "quantitative", "axis": null}}},
     {"data": {"name": "c42"}, "mark": {"type": "line", "opacity": 0},
      "encoding": {"x": {"field": "v", "type": "quantitative", "axis": {"orient": "top", "values": [-40,-20,0,20,40], "tickSize": -6, "labels": false, "domain": false, "title": null}},
       "y": {"field": "t", "type": "quantitative", "axis": null}}},
     {"data": {"values": [{}]}, "mark": {"type": "rule", "color": "#e05555", "strokeDash": [5, 3], "strokeWidth": 1.5},
      "encoding": {"x": {"datum": 10.6, "type": "quantitative", "axis": null}}},
     {"data": {"values": [{}]}, "mark": {"type": "text", "text": "C42α", "font": "Liberation Sans", "fontSize": 16, "fontWeight": "bold", "color": "#2f45dd", "align": "center", "baseline": "middle"},
      "encoding": {"x": {"datum": -4.57, "type": "quantitative", "axis": null}, "y": {"datum": 0.878, "type": "quantitative", "axis": null}}},
     {"data": {"values": [{}]}, "mark": {"type": "text", "text": "He42α", "font": "Liberation Sans", "fontSize": 14, "fontWeight": "bold", "color": "#2f45dd", "align": "center", "baseline": "middle"},
      "encoding": {"x": {"datum": 26.71, "type": "quantitative", "axis": null}, "y": {"datum": 0.849, "type": "quantitative", "axis": null}}},
     {"data": {"values": [{}]}, "mark": {"type": "rule", "color": "#888", "strokeWidth": 1},
      "encoding": {"x": {"datum": 23.29, "type": "quantitative", "axis": null}, "y": {"datum": 0.605, "type": "quantitative", "axis": null}, "y2": {"datum": 0.44}}},
     {"data": {"values": [{}]}, "mark": {"type": "point", "shape": "triangle-down", "filled": true, "size": 12, "color": "#888", "opacity": 1},
      "encoding": {"x": {"datum": 23.29, "type": "quantitative", "axis": null}, "y": {"datum": 0.44, "type": "quantitative", "axis": null}}},
     {"data": {"values": [{}]}, "mark": {"type": "rect", "fill": null, "stroke": "#6ab04c", "strokeWidth": 2.5, "clip": false},
      "encoding": {"x": {"datum": -44.75, "type": "quantitative", "axis": null}, "x2": {"datum": 45.66}, "y": {"datum": 1.345, "type": "quantitative", "axis": null}, "y2": {"datum": -2.345}}}
    ]},
   {"width": 184, "height": 82, "view": {"stroke": "#222", "strokeWidth": 1},
    "resolve": {"axis": {"x": "independent", "y": "independent"}},
    "layer": [
     {"data": {"name": "h42"}, "mark": {"type": "line", "color": "#3445e0", "strokeWidth": 1, "interpolate": "step"},
      "encoding": {"x": {"field": "v", "type": "quantitative", "scale": {"domain": [-41.4, 42.4], "nice": false, "zero": false},
        "axis": {"orient": "bottom", "values": [-40,-35,-30,-25,-20,-15,-10,-5,0,5,10,15,20,25,30,35,40], "tickSize": -3, "labels": false, "domain": false, "title": null}},
       "y": {"field": "t", "type": "quantitative", "scale": {"domain": [-0.218, 1.273], "nice": false, "zero": false},
        "axis": {"orient": "left", "values": [-0.091,0.06,0.212,0.364,0.515,0.667,0.818,0.97,1.121], "tickSize": -3, "labels": false, "domain": false, "title": null}}}},
     {"data": {"name": "h42"}, "mark": {"type": "line", "opacity": 0},
      "encoding": {"x": {"field": "v", "type": "quantitative", "axis": {"orient": "top", "values": [-40,-35,-30,-25,-20,-15,-10,-5,0,5,10,15,20,25,30,35,40], "tickSize": -3, "labels": false, "domain": false, "title": null}},
       "y": {"field": "t", "type": "quantitative", "axis": {"orient": "right", "values": [-0.091,0.06,0.212,0.364,0.515,0.667,0.818,0.97,1.121], "tickSize": -3, "labels": false, "domain": false, "title": null}}}},
     {"data": {"name": "h42"}, "mark": {"type": "line", "opacity": 0},
      "encoding": {"x": {"field": "v", "type": "quantitative", "axis": {"orient": "bottom", "values": [-40,-20,0,20,40], "tickSize": -6, "labels": true, "labelExpr": "datum.value == -40 ? '40' : datum.label", "labelFont": "DejaVu Serif", "labelFontSize": 9, "labelColor": "#000", "labelBaseline": "middle", "labelPadding": 15, "labelFlush": false, "labelOverlap": false, "domain": false, "title": null}},
       "y": {"field": "t", "type": "quantitative", "axis": null}}},
     {"data": {"name": "h42"}, "mark": {"type": "line", "opacity": 0},
      "encoding": {"x": {"field": "v", "type": "quantitative", "axis": {"orient": "top", "values": [-40,-20,0,20,40], "tickSize": -6, "labels": false, "domain": false, "title": null}},
       "y": {"field": "t", "type": "quantitative", "axis": null}}},
     {"data": {"values": [{}]}, "mark": {"type": "rule", "color": "#e05555", "strokeDash": [5, 3], "strokeWidth": 1.5},
      "encoding": {"x": {"datum": 10.6, "type": "quantitative", "axis": null}}},
     {"data": {"values": [{}]}, "mark": {"type": "text", "text": "H42α", "font": "Liberation Sans", "fontSize": 18, "fontWeight": "bold", "color": "#2f45dd", "align": "center", "baseline": "middle"},
      "encoding": {"x": {"datum": -30.6, "type": "quantitative", "axis": null}, "y": {"datum": 0.849, "type": "quantitative", "axis": null}}},
     {"data": {"values": [{}]}, "mark": {"type": "text", "text": "v", "font": "DejaVu Serif", "fontSize": 11, "color": "#000", "align": "center", "baseline": "middle"},
      "encoding": {"x": {"datum": -18.0, "type": "quantitative", "axis": null}, "y": {"datum": -0.645, "type": "quantitative", "axis": null}}},
     {"data": {"values": [{}]}, "mark": {"type": "text", "text": "LSR", "font": "DejaVu Serif", "fontSize": 6.5, "color": "#000", "align": "left", "baseline": "middle"},
      "encoding": {"x": {"datum": -15.9, "type": "quantitative", "axis": null}, "y": {"datum": -0.71, "type": "quantitative", "axis": null}}},
     {"data": {"values": [{}]}, "mark": {"type": "text", "text": "[km s⁻¹]", "font": "DejaVu Serif", "fontSize": 10, "color": "#000", "align": "center", "baseline": "middle"},
      "encoding": {"x": {"datum": 1.5, "type": "quantitative", "axis": null}, "y": {"datum": -0.636, "type": "quantitative", "axis": null}}}
    ]}
  ], "spacing": 3, "bounds": "flush"}
 ], "spacing": 4, "bounds": "flush"},
 {"vconcat": [
  {"width": 1, "height": 1, "data": {"values": []}, "mark": "point", "view": {"stroke": null}},
  {"hconcat": [
   {"width": 360, "height": 181, "view": {"stroke": "#7094d0", "strokeWidth": 1.5},
    "resolve": {"axis": {"x": "independent"}},
    "layer": [
     {"data": {"name": "p3n"}, "mark": {"type": "line", "color": "#000", "strokeWidth": 1.2},
      "encoding": {"x": {"field": "f", "type": "quantitative", "scale": {"domain": [81.634, 100.068], "nice": false, "zero": false},
        "axis": {"orient": "bottom", "offset": -25, "values": [84, 87, 90, 93, 96, 99], "format": "~g", "tickSize": -6, "labelPadding": 19, "labelBaseline": "middle", "labelFont": "DejaVu Serif", "labelFontSize": 11, "labelColor": "#000", "labelFlush": false, "labelOverlap": false, "title": "Frequency (GHz)", "titleFont": "Lato", "titleFontSize": 14, "titleFontWeight": "normal", "titleColor": "#1a1a1a", "titleX": 217, "titleY": 36, "titleBaseline": "middle"}},
       "y": {"field": "v", "type": "quantitative", "scale": {"domain": [-0.319, 1.189], "nice": false, "zero": false}, "axis": null}}},
     {"data": {"name": "p3n"}, "mark": {"type": "line", "opacity": 0},
      "encoding": {"x": {"field": "f", "type": "quantitative", "axis": {"orient": "bottom", "offset": -25, "values": [82,82.5,83,83.5,84,84.5,85,85.5,86,86.5,87,87.5,88,88.5,89,89.5,90,90.5,91,91.5,92,92.5,93,93.5,94,94.5,95,95.5,96,96.5,97,97.5,98,98.5,99,99.5,100], "tickSize": -3, "labels": false, "domain": false, "title": null}},
       "y": {"field": "v", "type": "quantitative", "axis": null}}},
     {"data": {"name": "p3b"}, "mark": {"type": "area", "color": "#000"},
      "encoding": {"x": {"field": "f", "type": "quantitative", "axis": null}, "y": {"field": "lo", "type": "quantitative", "axis": null}, "y2": {"field": "hi"}}},
     {"data": {"name": "p3s"}, "mark": {"type": "rule", "color": "#000", "strokeWidth": 1.3},
      "encoding": {"x": {"field": "f", "type": "quantitative", "axis": null}, "y": {"field": "v", "type": "quantitative", "axis": null}, "y2": {"datum": 0}}},
     {"data": {"name": "p3g"}, "mark": {"type": "rule", "strokeWidth": 1.1, "color": "#2233dd"},
      "encoding": {"x": {"field": "x1", "type": "quantitative", "axis": null}, "x2": {"field": "x2"}, "y": {"field": "y1", "type": "quantitative", "axis": null}, "y2": {"field": "y2"}}},
     {"data": {"name": "p3h"}, "mark": {"type": "point", "filled": true, "size": 18, "opacity": 1, "color": "#2233dd"},
      "encoding": {"x": {"field": "f", "type": "quantitative", "axis": null}, "y": {"field": "v", "type": "quantitative", "axis": null},
       "shape": {"field": "d", "type": "nominal", "scale": {"domain": ["down", "left", "right"], "range": ["triangle-down", "triangle-left", "triangle-right"]}, "legend": null}}},
     {"data": {"name": "p3t"}, "mark": {"type": "text", "font": "DejaVu Serif", "fontSize": 11, "align": "center", "baseline": "middle", "color": "#2233dd"},
      "encoding": {"x": {"field": "f", "type": "quantitative", "axis": null}, "y": {"field": "v", "type": "quantitative", "axis": null}, "text": {"field": "t"}}},
     {"data": {"values": [{}]}, "mark": {"type": "rect", "fill": null, "stroke": "#5a7fd0", "strokeWidth": 1.5},
      "encoding": {"x": {"datum": 90.989, "type": "quantitative", "axis": null}, "x2": {"datum": 97.471}, "y": {"datum": 0.728, "type": "quantitative", "axis": null}, "y2": {"datum": 0.514}}},
     {"data": {"values": [{}]}, "mark": {"type": "text", "text": "3 mm", "font": "Lato", "fontSize": 14.5, "fontWeight": "bold", "color": "#2a40c8", "align": "center", "baseline": "middle"},
      "encoding": {"x": {"datum": 92.244, "type": "quantitative", "axis": null}, "y": {"datum": 0.623, "type": "quantitative", "axis": null}}},
     {"data": {"values": [{}]}, "mark": {"type": "text", "text": "IRAM 30m", "font": "Lato", "fontSize": 14, "color": "#2a40c8", "align": "center", "baseline": "middle"},
      "encoding": {"x": {"datum": 95.331, "type": "quantitative", "axis": null}, "y": {"datum": 0.623, "type": "quantitative", "axis": null}}},
     {"data": {"values": [{}]}, "mark": {"type": "rect", "fill": null, "stroke": "#6ab04c", "strokeWidth": 2, "clip": false},
      "encoding": {"x": {"datum": 86.038, "type": "quantitative", "axis": null}, "x2": {"datum": 86.499}, "y": {"datum": 0.173, "type": "quantitative", "axis": null}, "y2": {"datum": -0.036}}},
     {"data": {"values": [{}]}, "mark": {"type": "rule", "color": "#6ab04c", "strokeWidth": 2, "clip": false},
      "encoding": {"x": {"datum": 80.559, "type": "quantitative", "axis": null}, "x2": {"datum": 86.038}, "y": {"datum": 1.4225, "type": "quantitative", "axis": null}, "y2": {"datum": 0.173}}},
     {"data": {"values": [{}]}, "mark": {"type": "rule", "color": "#6ab04c", "strokeWidth": 2, "clip": false},
      "encoding": {"x": {"datum": 80.559, "type": "quantitative", "axis": null}, "x2": {"datum": 86.038}, "y": {"datum": -0.2692, "type": "quantitative", "axis": null}, "y2": {"datum": -0.036}}}
    ]},
   {"width": 326, "height": 181, "view": {"stroke": "#7094d0", "strokeWidth": 1.5},
    "resolve": {"axis": {"x": "independent"}},
    "layer": [
     {"data": {"name": "p4n"}, "mark": {"type": "line", "color": "#000", "strokeWidth": 1.2},
      "encoding": {"x": {"field": "f", "type": "quantitative", "scale": {"domain": [254.07, 277.833], "nice": false, "zero": false},
        "axis": {"orient": "bottom", "offset": -24, "values": [255, 260, 265, 270, 275], "format": "~g", "tickSize": -6, "labelPadding": 18, "labelBaseline": "middle", "labelFont": "Liberation Sans", "labelFontSize": 12, "labelColor": "#000", "labelFlush": false, "labelOverlap": false, "title": "Frequency (GHz)", "titleFont": "Lato", "titleFontSize": 14, "titleFontWeight": "normal", "titleColor": "#1a1a1a", "titleX": 179, "titleY": 35, "titleBaseline": "middle"}},
       "y": {"field": "v", "type": "quantitative", "scale": {"domain": [-0.452, 1.839], "nice": false, "zero": false}, "axis": null}}},
     {"data": {"name": "p4n"}, "mark": {"type": "line", "opacity": 0},
      "encoding": {"x": {"field": "f", "type": "quantitative", "axis": {"orient": "bottom", "offset": -24, "values": [254.5,255,255.5,256,256.5,257,257.5,258,258.5,259,259.5,260,260.5,261,261.5,262,262.5,263,263.5,264,264.5,265,265.5,266,266.5,267,267.5,268,268.5,269,269.5,270,270.5,271,271.5,272,272.5,273,273.5,274,274.5,275,275.5,276,276.5,277,277.5], "tickSize": -3, "labels": false, "domain": false, "title": null}},
       "y": {"field": "v", "type": "quantitative", "axis": null}}},
     {"data": {"name": "p4s"}, "mark": {"type": "rule", "color": "#000", "strokeWidth": 1.4},
      "encoding": {"x": {"field": "f", "type": "quantitative", "axis": null}, "y": {"field": "v", "type": "quantitative", "axis": null}, "y2": {"datum": 0}}},
     {"data": {"name": "p4g"}, "mark": {"type": "rule", "strokeWidth": 1.1, "color": "#2233dd"},
      "encoding": {"x": {"field": "x1", "type": "quantitative", "axis": null}, "x2": {"field": "x2"}, "y": {"field": "y1", "type": "quantitative", "axis": null}, "y2": {"field": "y2"}}},
     {"data": {"name": "p4h"}, "mark": {"type": "point", "filled": true, "size": 18, "opacity": 1, "color": "#2233dd"},
      "encoding": {"x": {"field": "f", "type": "quantitative", "axis": null}, "y": {"field": "v", "type": "quantitative", "axis": null},
       "shape": {"field": "d", "type": "nominal", "scale": {"domain": ["down", "left", "right"], "range": ["triangle-down", "triangle-left", "triangle-right"]}, "legend": null}}},
     {"data": {"name": "p4t"}, "mark": {"type": "text", "font": "DejaVu Serif", "fontSize": 11, "align": "center", "baseline": "middle", "color": "#2233dd"},
      "encoding": {"x": {"field": "f", "type": "quantitative", "axis": null}, "y": {"field": "v", "type": "quantitative", "axis": null}, "text": {"field": "t"}}},
     {"data": {"values": [{}]}, "mark": {"type": "rect", "fill": null, "stroke": "#5a7fd0", "strokeWidth": 1.5},
      "encoding": {"x": {"datum": 268.181, "type": "quantitative", "axis": null}, "x2": {"datum": 277.505}, "y": {"datum": 1.603, "type": "quantitative", "axis": null}, "y2": {"datum": 1.278}}},
     {"data": {"values": [{}]}, "mark": {"type": "text", "text": "1 mm", "font": "Lato", "fontSize": 14.5, "fontWeight": "bold", "color": "#2a40c8", "align": "center", "baseline": "middle"},
      "encoding": {"x": {"datum": 270.026, "type": "quantitative", "axis": null}, "y": {"datum": 1.443, "type": "quantitative", "axis": null}}},
     {"data": {"values": [{}]}, "mark": {"type": "text", "text": "IRAM 30m", "font": "Lato", "fontSize": 14, "color": "#2a40c8", "align": "center", "baseline": "middle"},
      "encoding": {"x": {"datum": 274.354, "type": "quantitative", "axis": null}, "y": {"datum": 1.443, "type": "quantitative", "axis": null}}}
    ]}
  ], "spacing": 14, "bounds": "flush"}
 ], "spacing": 23, "bounds": "flush"}
], "spacing": 217, "bounds": "flush"}
]
}
